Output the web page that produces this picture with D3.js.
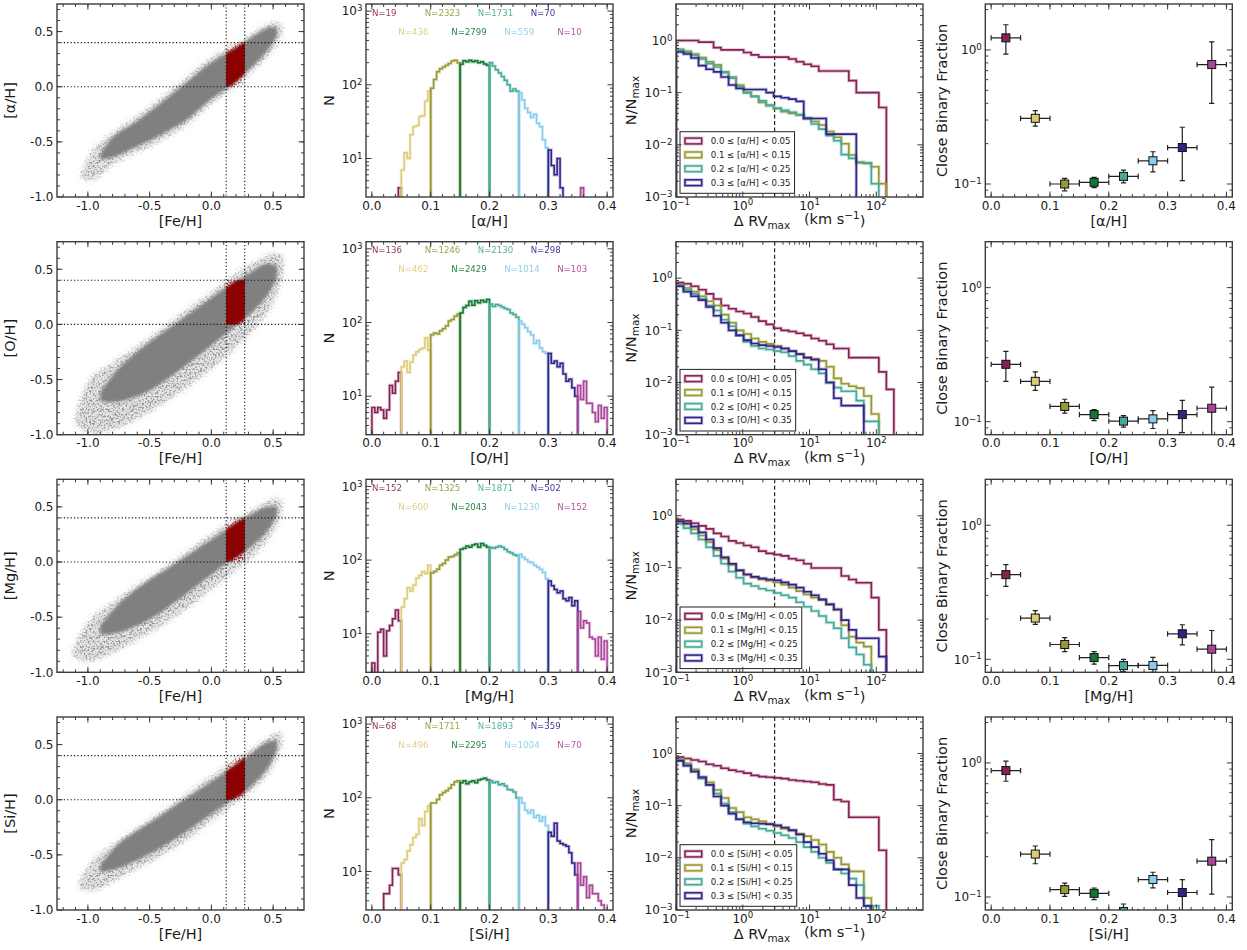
<!DOCTYPE html>
<html><head><meta charset="utf-8">
<script src="https://cdn.jsdelivr.net/npm/d3@7"></script>
<style>
body{margin:0;background:#fff;}
svg{display:block;font-family:"DejaVu Sans",sans-serif;}
</style></head><body>
<svg id="fig" width="1247" height="950"></svg>
<script>
// ---------- data ----------
const elements = ["α", "O", "Mg", "Si"];
const binColors = ["#882255", "#DDCC77", "#999933", "#117733", "#44AA99", "#88CCEE", "#332288", "#AA4499"];
const binStarts = [0.00, 0.05, 0.10, 0.15, 0.20, 0.25, 0.30, 0.35];
const binWidth = 0.05;
const fineWidth = 0.005;

// stars per abundance bin
const countsAlpha = [19, 436, 2323, 2799, 1731, 559, 70, 10];
const countsO = [136, 462, 1246, 2429, 2130, 1014, 298, 103];
const countsMg = [152, 600, 1325, 2043, 1871, 1230, 502, 152];
const countsSi = [68, 496, 1711, 2295, 1893, 1004, 359, 70];

// fine histograms (0.005 bins), one list of ten per abundance bin
const histAlpha = [
  [0, 0, 0, 0, 0, 0, 0, 0, 0, 4],
  [7, 12, 10, 21, 27, 28, 37, 38, 60, 82],
  [90, 118, 150, 165, 175, 185, 195, 210, 215, 200],
  [190, 212, 205, 215, 205, 212, 200, 205, 192, 185],
  [200, 180, 160, 145, 130, 115, 100, 82, 88, 82],
  [78, 62, 48, 42, 36, 40, 30, 27, 18, 14],
  [13, 8, 6, 10, 4, 2, 2, 1, 0, 0],
  [0, 4, 0, 0, 0, 0, 0, 0, 0, 0]
];
const histO = [
  [7, 6, 7, 6.5, 5, 6.5, 14, 11, 16, 21],
  [25, 30, 21, 29, 36, 40, 43, 45, 62, 42],
  [68, 72, 70, 77, 82, 90, 105, 110, 122, 130],
  [135, 160, 170, 195, 172, 198, 185, 200, 190, 205],
  [178, 165, 175, 170, 162, 155, 150, 135, 128, 118],
  [105, 95, 85, 75, 68, 52, 57, 45, 40, 38],
  [38, 28, 30, 25, 28, 20, 16, 17, 13, 10],
  [14, 9, 16, 8, 8, 6, 4.5, 7.5, 5, 7]
];
const histMg = [
  [4, 0, 10.5, 11.5, 5, 11, 13, 16, 21, 15],
  [23, 30, 42, 38, 46, 57, 62, 70, 66, 85],
  [67, 70, 75, 85, 90, 100, 110, 112, 118, 125],
  [140, 145, 155, 150, 160, 165, 150, 168, 158, 150],
  [148, 145, 150, 155, 150, 140, 130, 125, 118, 115],
  [120, 110, 102, 95, 92, 85, 80, 75, 68, 56],
  [52, 45, 40, 36, 38, 30, 28, 31, 24, 28],
  [20, 12, 15, 14, 9, 8.5, 5, 9, 4.5, 8]
];
const histSi = [
  [0, 0, 0, 0, 5, 5, 6.5, 11, 11, 9],
  [13, 14.5, 19, 23, 29, 32, 52, 42, 65, 78],
  [85, 85, 95, 110, 118, 125, 135, 150, 165, 170],
  [160, 170, 155, 165, 170, 160, 175, 180, 185, 175],
  [170, 160, 165, 150, 155, 145, 130, 128, 120, 100],
  [100, 85, 68, 62, 68, 54, 58, 48, 55, 42],
  [34, 30, 45, 26, 24, 23, 22, 18, 13, 9],
  [13, 6.5, 8.5, 4.4, 6.5, 5, 5, 4, 3.5, 0]
];

// log10 of the Delta RV_max bin edges (km/s)
const rvEdgeExp = [-1.0, -0.8875, -0.775, -0.6625, -0.55, -0.4375, -0.325, -0.2125, -0.1, 0.0125,
  0.125, 0.2375, 0.35, 0.4625, 0.575, 0.6875, 0.8, 0.9125, 1.025, 1.1375,
  1.25, 1.3625, 1.475, 1.5875, 1.7, 1.8125, 1.925, 2.0375, 2.15, 2.2625];
const rvThreshold = 3;
const cdfBins = [0, 2, 4, 6];

// reverse cumulative N/N_max per Delta RV_max bin, for bins 0, 2, 4, 6
const cdfAlpha = [
  [1.0, 1.0, 1.0, 0.93, 0.93, 0.73, 0.66, 0.66, 0.66, 0.59, 0.53, 0.48, 0.48, 0.48, 0.48, 0.44, 0.39, 0.35, 0.32, 0.26, 0.26, 0.26, 0.26, 0.17, 0.10, 0.10, 0.10, 0.052],
  [0.68, 0.62, 0.55, 0.47, 0.39, 0.34, 0.25, 0.2, 0.14, 0.10, 0.085, 0.065, 0.056, 0.05, 0.043, 0.04, 0.037, 0.032, 0.028, 0.024, 0.018, 0.014, 0.0105, 0.0064, 0.0047, 0.0044, 0.0038, 0.0018],
  [0.66, 0.6, 0.52, 0.44, 0.36, 0.31, 0.24, 0.19, 0.13, 0.10, 0.085, 0.07, 0.058, 0.05, 0.046, 0.042, 0.038, 0.033, 0.025, 0.02, 0.015, 0.012, 0.0065, 0.0055, 0.0045, 0.0045, 0.0018],
  [0.6, 0.55, 0.46, 0.33, 0.28, 0.25, 0.2, 0.14, 0.12, 0.115, 0.115, 0.115, 0.1, 0.085, 0.08, 0.075, 0.068, 0.032, 0.032, 0.032, 0.016, 0.016, 0.016, 0.016]
];
const cdfO = [
  [0.82, 0.78, 0.7, 0.6, 0.5, 0.4, 0.3, 0.26, 0.23, 0.21, 0.18, 0.15, 0.13, 0.11, 0.1, 0.095, 0.088, 0.08, 0.07, 0.063, 0.054, 0.045, 0.045, 0.03, 0.03, 0.03, 0.03, 0.016, 0.0074],
  [0.75, 0.65, 0.55, 0.45, 0.36, 0.3, 0.2, 0.14, 0.1, 0.085, 0.07, 0.06, 0.055, 0.05, 0.045, 0.04, 0.035, 0.03, 0.027, 0.026, 0.02, 0.012, 0.0095, 0.0085, 0.0078, 0.0055, 0.0025],
  [0.72, 0.6, 0.5, 0.4, 0.3, 0.24, 0.16, 0.12, 0.08, 0.06, 0.05, 0.045, 0.043, 0.04, 0.038, 0.032, 0.026, 0.022, 0.018, 0.015, 0.01, 0.008, 0.0068, 0.0068, 0.0045, 0.0018, 0.0018],
  [0.7, 0.55, 0.45, 0.38, 0.28, 0.19, 0.14, 0.1, 0.08, 0.065, 0.056, 0.052, 0.05, 0.048, 0.045, 0.04, 0.035, 0.03, 0.028, 0.018, 0.01, 0.005, 0.0036, 0.0036, 0.0036]
];
const cdfMg = [
  [0.85, 0.8, 0.72, 0.64, 0.56, 0.46, 0.4, 0.33, 0.3, 0.27, 0.25, 0.21, 0.19, 0.18, 0.17, 0.15, 0.14, 0.12, 0.1, 0.1, 0.1, 0.1, 0.07, 0.06, 0.052, 0.052, 0.027, 0.0065],
  [0.78, 0.68, 0.55, 0.42, 0.31, 0.22, 0.15, 0.115, 0.09, 0.075, 0.066, 0.06, 0.057, 0.053, 0.048, 0.042, 0.036, 0.031, 0.027, 0.024, 0.02, 0.016, 0.008, 0.0048, 0.0037, 0.0031],
  [0.7, 0.58, 0.46, 0.35, 0.25, 0.17, 0.12, 0.085, 0.065, 0.05, 0.045, 0.04, 0.037, 0.033, 0.03, 0.027, 0.022, 0.018, 0.015, 0.012, 0.009, 0.007, 0.0045, 0.003, 0.0022, 0.0014],
  [0.78, 0.72, 0.62, 0.48, 0.35, 0.24, 0.16, 0.12, 0.09, 0.075, 0.068, 0.063, 0.06, 0.058, 0.053, 0.048, 0.042, 0.035, 0.03, 0.025, 0.02, 0.016, 0.01, 0.0065, 0.0045, 0.0045, 0.0045, 0.002]
];
const cdfSi = [
  [0.85, 0.8, 0.75, 0.7, 0.62, 0.58, 0.52, 0.48, 0.45, 0.42, 0.38, 0.36, 0.35, 0.34, 0.33, 0.31, 0.3, 0.29, 0.28, 0.26, 0.25, 0.13, 0.12, 0.06, 0.06, 0.06, 0.06, 0.014],
  [0.78, 0.65, 0.5, 0.35, 0.28, 0.2, 0.14, 0.09, 0.075, 0.06, 0.055, 0.05, 0.045, 0.04, 0.036, 0.033, 0.029, 0.026, 0.022, 0.018, 0.013, 0.01, 0.0075, 0.0055, 0.0055, 0.0017],
  [0.75, 0.6, 0.45, 0.33, 0.25, 0.17, 0.11, 0.075, 0.055, 0.045, 0.04, 0.036, 0.033, 0.03, 0.027, 0.024, 0.02, 0.016, 0.013, 0.01, 0.008, 0.006, 0.005, 0.004, 0.003, 0.0012, 0.0012],
  [0.72, 0.58, 0.45, 0.35, 0.25, 0.15, 0.1, 0.07, 0.055, 0.048, 0.046, 0.045, 0.044, 0.042, 0.038, 0.034, 0.028, 0.02, 0.016, 0.012, 0.009, 0.006, 0.006, 0.003, 0.0017, 0.0012]
];

// close binary fraction with lower / upper error bounds
const fracAlpha = [1.23, 0.309, 0.100, 0.103, 0.114, 0.149, 0.187, 0.778];
const fracAlphaLo = [0.93, 0.27, 0.089, 0.094, 0.102, 0.123, 0.106, 0.40];
const fracAlphaHi = [1.54, 0.352, 0.110, 0.112, 0.127, 0.174, 0.265, 1.15];
const fracO = [0.268, 0.200, 0.130, 0.113, 0.101, 0.105, 0.113, 0.126];
const fracOLo = [0.200, 0.171, 0.116, 0.102, 0.091, 0.089, 0.083, 0.07];
const fracOHi = [0.335, 0.235, 0.147, 0.123, 0.111, 0.121, 0.144, 0.181];
const fracMg = [0.428, 0.203, 0.129, 0.103, 0.0897, 0.090, 0.155, 0.119];
const fracMgLo = [0.350, 0.182, 0.114, 0.092, 0.081, 0.080, 0.128, 0.07];
const fracMgHi = [0.508, 0.231, 0.145, 0.114, 0.100, 0.1035, 0.181, 0.164];
const fracSi = [0.877, 0.209, 0.1135, 0.1065, 0.078, 0.135, 0.108, 0.185];
const fracSiLo = [0.73, 0.177, 0.101, 0.0955, 0.07, 0.117, 0.079, 0.105];
const fracSiHi = [1.03, 0.240, 0.127, 0.1167, 0.0887, 0.153, 0.135, 0.268];

// [X/H] vs [Fe/H] cloud outline: [Fe/H, lower, upper] for the sparse fringe and dense core
const haloAlpha = [[-1.05, -0.84, -0.78], [-0.95, -0.84, -0.56], [-0.8, -0.7, -0.42], [-0.6, -0.59, -0.27], [-0.4, -0.48, -0.1], [-0.2, -0.34, 0.08], [0.0, -0.15, 0.26], [0.2, 0.01, 0.38], [0.4, 0.22, 0.53], [0.5, 0.34, 0.58], [0.57, 0.48, 0.57]];
const coreAlpha = [[-0.9, -0.66, -0.62], [-0.8, -0.64, -0.46], [-0.6, -0.54, -0.31], [-0.4, -0.43, -0.14], [-0.2, -0.3, 0.04], [0.0, -0.11, 0.22], [0.2, 0.05, 0.35], [0.4, 0.26, 0.5], [0.48, 0.37, 0.54], [0.53, 0.46, 0.53]];
const haloO = [[-1.1, -0.9, -0.84], [-0.98, -0.98, -0.5], [-0.8, -0.95, -0.35], [-0.6, -0.85, -0.2], [-0.4, -0.72, -0.04], [-0.2, -0.57, 0.13], [0.0, -0.4, 0.29], [0.2, -0.2, 0.46], [0.4, 0.03, 0.59], [0.5, 0.2, 0.64], [0.58, 0.45, 0.62]];
const coreO = [[-0.9, -0.7, -0.62], [-0.75, -0.7, -0.4], [-0.5, -0.6, -0.16], [-0.3, -0.45, 0.0], [-0.1, -0.28, 0.16], [0.1, -0.1, 0.32], [0.3, 0.08, 0.46], [0.45, 0.26, 0.55], [0.53, 0.42, 0.53]];
const haloMg = [[-1.12, -0.86, -0.8], [-1.0, -0.9, -0.55], [-0.8, -0.82, -0.37], [-0.6, -0.7, -0.21], [-0.4, -0.57, -0.07], [-0.2, -0.42, 0.09], [0.0, -0.24, 0.25], [0.2, -0.07, 0.39], [0.4, 0.13, 0.51], [0.5, 0.28, 0.57], [0.57, 0.45, 0.56]];
const coreMg = [[-0.9, -0.66, -0.58], [-0.75, -0.64, -0.38], [-0.5, -0.52, -0.16], [-0.3, -0.37, -0.02], [-0.1, -0.2, 0.13], [0.1, -0.03, 0.28], [0.3, 0.12, 0.42], [0.45, 0.28, 0.5], [0.53, 0.42, 0.5]];
const haloSi = [[-1.07, -0.8, -0.75], [-0.95, -0.82, -0.54], [-0.8, -0.74, -0.41], [-0.6, -0.62, -0.26], [-0.4, -0.5, -0.11], [-0.2, -0.36, 0.05], [0.0, -0.19, 0.21], [0.2, -0.02, 0.36], [0.4, 0.16, 0.51], [0.5, 0.31, 0.59], [0.57, 0.5, 0.61]];
const coreSi = [[-0.9, -0.66, -0.6], [-0.75, -0.62, -0.4], [-0.5, -0.49, -0.21], [-0.3, -0.36, -0.06], [-0.1, -0.21, 0.09], [0.1, -0.05, 0.24], [0.3, 0.1, 0.4], [0.45, 0.28, 0.52], [0.53, 0.45, 0.54]];

// selection box in the [X/H] vs [Fe/H] plane
const feCut = [0.12, 0.27];
const xhCut = [0.0, 0.4];

const rows = [
  {el: elements[0], counts: countsAlpha, hist: histAlpha, cdf: cdfAlpha, frac: fracAlpha, lo: fracAlphaLo, hi: fracAlphaHi, halo: haloAlpha, core: coreAlpha},
  {el: elements[1], counts: countsO, hist: histO, cdf: cdfO, frac: fracO, lo: fracOLo, hi: fracOHi, halo: haloO, core: coreO},
  {el: elements[2], counts: countsMg, hist: histMg, cdf: cdfMg, frac: fracMg, lo: fracMgLo, hi: fracMgHi, halo: haloMg, core: coreMg},
  {el: elements[3], counts: countsSi, hist: histSi, cdf: cdfSi, frac: fracSi, lo: fracSiLo, hi: fracSiHi, halo: haloSi, core: coreSi}
];

// ---------- layout ----------
const svg = d3.select("#fig");
const defs = svg.append("defs");
const colX = [57, 366, 676, 985.3];
const rowY = [4, 241.7, 479.3, 717];
const PW = 247, PH = 193;
const spineColor = "#3c3c3c";
const textColor = "#1a1a1a";

defs.append("clipPath").attr("id", "plotclip").append("rect").attr("width", PW).attr("height", PH);

// grainy edge for the sparse outskirts of the star cloud
const grain = defs.append("filter").attr("id", "grain").attr("x", "-10%").attr("y", "-10%").attr("width", "120%").attr("height", "120%");
grain.append("feGaussianBlur").attr("in", "SourceGraphic").attr("stdDeviation", 3).attr("result", "blur");
grain.append("feTurbulence").attr("type", "fractalNoise").attr("baseFrequency", 0.55).attr("numOctaves", 1).attr("seed", 7).attr("result", "noise");
grain.append("feColorMatrix").attr("in", "noise").attr("type", "matrix")
  .attr("values", "0 0 0 0 0  0 0 0 0 0  0 0 0 0 0  6 0 0 0 -2.9").attr("result", "mask");
grain.append("feComposite").attr("in", "blur").attr("in2", "mask").attr("operator", "in");
defs.append("filter").attr("id", "softer").attr("x", "-10%").attr("y", "-10%").attr("width", "120%").attr("height", "120%")
  .append("feGaussianBlur").attr("stdDeviation", 1.4);

const fmtLin = v => (v < 0 ? "-" : "") + Math.abs(v).toFixed(1);
const fmtDec = v => { const e = Math.round(Math.log10(v)); return ["10", (e < 0 ? "\u2212" : "") + Math.abs(e)]; };

function linTicks(a, b, step) {
  const out = [];
  for (let k = Math.ceil(a / step - 1e-9); k * step <= b + 1e-9; k++) out.push(+(k * step).toFixed(6));
  return out;
}
function decTicks(a, b) {
  const out = [];
  for (let e = Math.floor(Math.log10(a)); e <= Math.ceil(Math.log10(b)); e++) { const v = Math.pow(10, e); if (v >= a * 0.999 && v <= b * 1.001) out.push(v); }
  return out;
}
function decMinor(a, b) {
  const out = [];
  for (let e = Math.floor(Math.log10(a)); e <= Math.ceil(Math.log10(b)); e++)
    for (let k = 2; k <= 9; k++) { const v = k * Math.pow(10, e); if (v > a && v < b) out.push(v); }
  return out;
}

function putLabel(sel, f) {
  if (typeof f === "string") { sel.text(f); return; }
  sel.append("tspan").text(f[0]);
  sel.append("tspan").attr("dy", "-0.48em").attr("font-size", "0.72em").text(f[1]);
}

function axes(g, sx, sy, o) {
  const t = g.append("g").attr("stroke", spineColor).attr("stroke-width", 1);
  const line = (x1, y1, x2, y2) => t.append("line").attr("x1", x1).attr("y1", y1).attr("x2", x2).attr("y2", y2);
  o.xMaj.forEach(v => { const p = sx(v); line(p, PH, p, PH - 5.5); line(p, 0, p, 5.5); });
  o.xMin.forEach(v => { const p = sx(v); line(p, PH, p, PH - 3); line(p, 0, p, 3); });
  o.yMaj.forEach(v => { const p = sy(v); line(0, p, 5.5, p); line(PW, p, PW - 5.5, p); });
  o.yMin.forEach(v => { const p = sy(v); line(0, p, 3, p); line(PW, p, PW - 3, p); });
  g.append("rect").attr("width", PW).attr("height", PH).attr("fill", "none").attr("stroke", spineColor).attr("stroke-width", 1.4);
  const lab = g.append("g").attr("font-size", 12).attr("fill", textColor);
  o.xMaj.forEach(v => putLabel(lab.append("text").attr("x", sx(v)).attr("y", PH + 12.5).attr("text-anchor", "middle"), o.xFmt(v)));
  o.yMaj.forEach(v => putLabel(lab.append("text").attr("x", -3.5).attr("y", sy(v) + 4.3).attr("text-anchor", "end"), o.yFmt(v)));
}

function xTitle(g, build) {
  const t = g.append("text").attr("x", PW / 2).attr("y", PH + 28.5).attr("text-anchor", "middle").attr("font-size", 14.5).attr("fill", textColor);
  build(t);
}
function yTitle(g, dx, build) {
  const t = g.append("text").attr("transform", `translate(${dx},${PH / 2}) rotate(-90)`).attr("text-anchor", "middle")
    .attr("font-size", 14.5).attr("fill", textColor);
  build(t);
}

rows.forEach((row, r) => {
  const top = rowY[r];
  const lab = `[${row.el}/H]`;

  // ---- column 1: [X/H] vs [Fe/H] ----
  {
    const g = svg.append("g").attr("transform", `translate(${colX[0]},${top})`);
    const x = d3.scaleLinear().domain([-1.25, 0.75]).range([0, PW]);
    const y = d3.scaleLinear().domain([-1.0, 0.75]).range([PH, 0]);
    const area = d3.area().x(d => x(d[0])).y0(d => y(d[1])).y1(d => y(d[2])).curve(d3.curveCatmullRom);
    const cid = `sel${r}`;
    defs.append("clipPath").attr("id", cid).append("rect")
      .attr("x", x(feCut[0])).attr("y", y(xhCut[1])).attr("width", x(feCut[1]) - x(feCut[0])).attr("height", y(xhCut[0]) - y(xhCut[1]));
    const body = g.append("g").attr("clip-path", "url(#plotclip)");
    body.append("path").attr("d", area(row.halo)).attr("fill", "#c4c4c4").attr("opacity", 0.45).attr("filter", "url(#softer)");
    body.append("path").attr("d", area(row.halo)).attr("fill", "#8e8e8e").attr("opacity", 0.9).attr("filter", "url(#grain)");
    body.append("path").attr("d", area(row.core)).attr("fill", "#808080").attr("filter", "url(#softer)");
    const red = body.append("g").attr("clip-path", `url(#${cid})`);
    red.append("path").attr("d", area(row.halo)).attr("fill", "#a01818").attr("opacity", 0.9).attr("filter", "url(#grain)");
    red.append("path").attr("d", area(row.core)).attr("fill", "#8b0000").attr("filter", "url(#softer)");
    const dots = g.append("g").attr("stroke", "#111").attr("stroke-width", 1.1).attr("stroke-dasharray", "1.2,2.2");
    feCut.forEach(v => dots.append("line").attr("x1", x(v)).attr("x2", x(v)).attr("y1", 0).attr("y2", PH));
    xhCut.forEach(v => dots.append("line").attr("x1", 0).attr("x2", PW).attr("y1", y(v)).attr("y2", y(v)));
    axes(g, x, y, {xMaj: linTicks(-1.0, 0.5, 0.5), xMin: linTicks(-1.2, 0.7, 0.1), yMaj: linTicks(-1.0, 0.5, 0.5), yMin: linTicks(-0.9, 0.7, 0.1), xFmt: fmtLin, yFmt: fmtLin});
    xTitle(g, t => t.text("[Fe/H]"));
    yTitle(g, -42, t => t.text(lab));
  }

  // ---- column 2: fine histograms ----
  {
    const g = svg.append("g").attr("transform", `translate(${colX[1]},${top})`);
    const x = d3.scaleLinear().domain([-0.01, 0.41]).range([0, PW]);
    const y = d3.scaleLog().domain([3, 1250]).range([PH, 0]);
    const floor = 1;
    const step = d3.line().x(d => x(d[0])).y(d => y(Math.max(d[1], floor))).curve(d3.curveStepAfter);
    const body = g.append("g").attr("clip-path", "url(#plotclip)");
    row.hist.forEach((vals, b) => {
      const x0 = binStarts[b];
      const pts = [[x0, floor]];
      vals.forEach((v, i) => pts.push([x0 + i * fineWidth, v]));
      pts.push([x0 + binWidth, vals[vals.length - 1]]);
      pts.push([x0 + binWidth, floor]);
      body.append("path").attr("d", step(pts)).attr("fill", "none").attr("stroke", binColors[b]).attr("stroke-width", 3.2).attr("opacity", 0.3);
      body.append("path").attr("d", step(pts)).attr("fill", "none").attr("stroke", binColors[b]).attr("stroke-width", 1.5);
    });
    const nl = g.append("g").attr("font-size", 8.6);
    row.counts.forEach((n, b) => {
      nl.append("text").attr("x", x(b * 0.045)).attr("y", b % 2 === 0 ? 11.8 : 30.8).attr("fill", binColors[b]).attr("opacity", 0.9).text(`N=${n}`);
    });
    axes(g, x, y, {xMaj: linTicks(0, 0.4, 0.1), xMin: linTicks(0, 0.41, 0.02), yMaj: decTicks(3, 1250), yMin: decMinor(3, 1250), xFmt: fmtLin, yFmt: fmtDec});
    xTitle(g, t => t.text(lab));
    yTitle(g, -32, t => t.text("N"));
  }

  // ---- column 3: reverse cumulative Delta RV_max ----
  {
    const g = svg.append("g").attr("transform", `translate(${colX[2]},${top})`);
    const x = d3.scaleLog().domain([0.1, 500]).range([0, PW]);
    const y = d3.scaleLog().domain([1e-3, 5]).range([PH, 0]);
    const floor = 1e-4;
    const edges = rvEdgeExp.map(e => Math.pow(10, e));
    const step = d3.line().x(d => x(d[0])).y(d => y(Math.max(d[1], floor))).curve(d3.curveStepAfter);
    const body = g.append("g").attr("clip-path", "url(#plotclip)");
    body.append("line").attr("x1", x(rvThreshold)).attr("x2", x(rvThreshold)).attr("y1", 0).attr("y2", PH)
      .attr("stroke", "#111").attr("stroke-width", 1.1).attr("stroke-dasharray", "4,2.5");
    row.cdf.forEach((vals, s) => {
      const c = binColors[cdfBins[s]];
      const pts = [[edges[0], floor]];
      vals.forEach((v, i) => pts.push([edges[i], v]));
      pts.push([edges[vals.length], vals[vals.length - 1]]);
      pts.push([edges[vals.length], floor]);
      body.append("path").attr("d", step(pts)).attr("fill", "none").attr("stroke", c).attr("stroke-width", 3.4).attr("opacity", 0.28);
      body.append("path").attr("d", step(pts)).attr("fill", "none").attr("stroke", c).attr("stroke-width", 1.6);
    });
    // legend, sized to its longest entry
    const lg = g.append("g").attr("transform", "translate(4,127.7)");
    const box = lg.append("rect").attr("height", 61.6).attr("fill", "#fff").attr("stroke", "#222").attr("stroke-width", 1);
    let widest = 0;
    cdfBins.forEach((b, i) => {
      const cy = 9.3 + i * 13.9;
      lg.append("rect").attr("x", 5).attr("y", cy - 2.9).attr("width", 16.7).attr("height", 5.8).attr("fill", "none")
        .attr("stroke", binColors[b]).attr("stroke-width", 3.2).attr("opacity", 0.3);
      lg.append("rect").attr("x", 5).attr("y", cy - 2.9).attr("width", 16.7).attr("height", 5.8).attr("fill", "none")
        .attr("stroke", binColors[b]).attr("stroke-width", 1.5);
      const tx = lg.append("text").attr("x", 30.7).attr("y", cy + 3.1).attr("font-size", 8.6).attr("fill", textColor)
        .text(`${binStarts[b].toFixed(1)} \u2264 ${lab} < ${(binStarts[b] + binWidth).toFixed(2)}`);
      widest = Math.max(widest, tx.node().getComputedTextLength());
    });
    box.attr("width", 30.7 + widest + 4);
    axes(g, x, y, {xMaj: decTicks(0.1, 500), xMin: decMinor(0.1, 500), yMaj: decTicks(1e-3, 5), yMin: decMinor(1e-3, 5), xFmt: fmtDec, yFmt: fmtDec});
    xTitle(g, t => {
      t.append("tspan").text("\u0394 RV");
      t.append("tspan").attr("dy", "0.3em").attr("font-size", "0.72em").text("max");
      t.append("tspan").attr("dy", "-0.3em").text("\u00a0\u00a0\u00a0(km s");
      t.append("tspan").attr("dy", "-0.48em").attr("font-size", "0.72em").text("\u22121");
      t.append("tspan").attr("dy", "0.48em").text(")");
    });
    yTitle(g, -40, t => {
      t.append("tspan").text("N/N");
      t.append("tspan").attr("dy", "0.3em").attr("font-size", "0.72em").text("max");
    });
  }

  // ---- column 4: close binary fraction ----
  {
    const g = svg.append("g").attr("transform", `translate(${colX[3]},${top})`);
    const x = d3.scaleLinear().domain([-0.01, 0.41]).range([0, PW]);
    const y = d3.scaleLog().domain([0.08, 2.2]).range([PH, 0]);
    const body = g.append("g").attr("clip-path", "url(#plotclip)");
    row.frac.forEach((f, b) => {
      const cx = x(binStarts[b] + binWidth / 2), cy = y(f);
      const eb = body.append("g").attr("stroke", "#222").attr("stroke-width", 1.2);
      const xl = x(binStarts[b]), xr = x(binStarts[b] + binWidth);
      const yl = y(row.lo[b]), yh = y(row.hi[b]);
      eb.append("line").attr("x1", xl).attr("x2", xr).attr("y1", cy).attr("y2", cy);
      eb.append("line").attr("x1", cx).attr("x2", cx).attr("y1", yl).attr("y2", yh);
      [xl, xr].forEach(p => eb.append("line").attr("x1", p).attr("x2", p).attr("y1", cy - 2.6).attr("y2", cy + 2.6));
      [yl, yh].forEach(p => eb.append("line").attr("x1", cx - 2.6).attr("x2", cx + 2.6).attr("y1", p).attr("y2", p));
      body.append("rect").attr("x", cx - 4).attr("y", cy - 4).attr("width", 8).attr("height", 8)
        .attr("fill", binColors[b]).attr("stroke", "#111").attr("stroke-width", 1);
    });
    axes(g, x, y, {xMaj: linTicks(0, 0.4, 0.1), xMin: linTicks(0, 0.41, 0.02), yMaj: decTicks(0.08, 2.2), yMin: decMinor(0.08, 2.2), xFmt: fmtLin, yFmt: fmtDec});
    xTitle(g, t => t.text(lab));
    yTitle(g, -38.6, t => t.text("Close Binary Fraction"));
  }
});
</script></body></html>
